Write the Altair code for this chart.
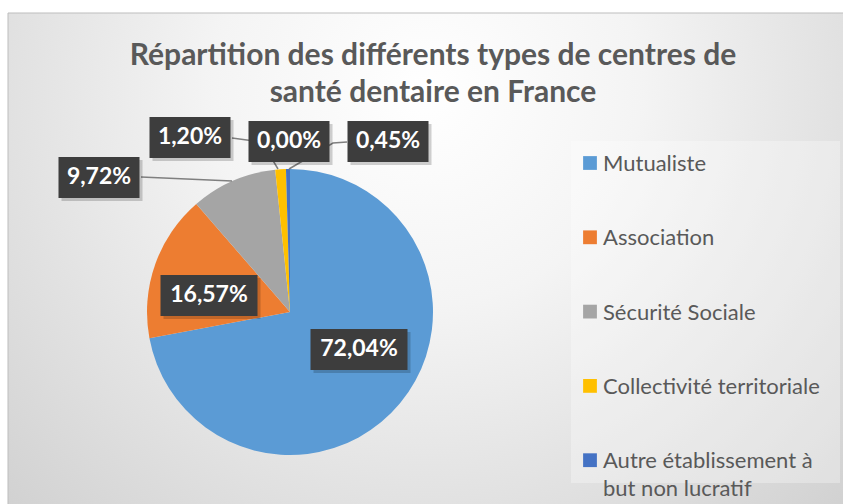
import altair as alt
import pandas as pd

# ---- data ----
categories = ["Mutualiste", "Association", "Sécurité Sociale",
              "Collectivité territoriale", "Autre établissement à but non lucratif", "Autres"]
values = [72.04, 16.57, 9.72, 1.20, 0.45, 0.00]
colors = ["#5B9BD5", "#ED7D31", "#A5A5A5", "#FFC000", "#4472C4", "#70AD47"]
legend_count = 5
title_lines = ["Répartition des différents types de centres de", "santé dentaire en France"]

# ---- layout (pixels) ----
W, H = 843, 504
pie_cx, pie_cy, pie_r = 290, 312, 143
label_x = [359, 209, 99, 190, 388, 289]
label_y = [349, 295, 177, 137, 141, 141]
leader_cat = [2, 2, 3, 3, 3, 4, 4, 4]
leader_pt = [0, 1, 0, 1, 2, 0, 1, 2]
leader_x = [141, 232, 232, 262, 278, 347, 333, 289]
leader_y = [177, 181, 138, 142, 169, 142, 143, 169]

FONT = "Lato"
TXT = "#595959"

def fmt(v):
    return f"{v:.2f}".replace(".", ",") + "%"

df = pd.DataFrame({"category": categories, "value": values, "idx": range(len(categories))})
df["label"] = [fmt(v) for v in values]
df["lx"] = label_x
df["ly"] = label_y
df["bw"] = [16 * len(s) + 1 for s in df["label"]]
df["x1"] = df["lx"] - df["bw"] / 2
df["x2"] = df["lx"] + df["bw"] / 2
df["y1"] = df["ly"] - 20
df["y2"] = df["ly"] + 21

color_scale = alt.Scale(domain=categories, range=colors)

one = pd.DataFrame({"a": [0]})

bg = alt.Chart(one).mark_rect(
    fill=alt.RadialGradient(
        gradient="radial",
        stops=[alt.GradientStop(color="#ffffff", offset=0),
               alt.GradientStop(color="#f4f4f4", offset=0.3),
               alt.GradientStop(color="#c6c6c6", offset=1)],
        x1=0.5, y1=0.3, r1=0, x2=0.5, y2=0.3, r2=0.85),
    stroke="#bdbdbd", strokeWidth=1,
).encode(x=alt.value(8), x2=alt.value(W + 2), y=alt.value(13), y2=alt.value(H + 2))

legend_box = alt.Chart(one).mark_rect(fill="#ffffff", fillOpacity=0.3).encode(
    x=alt.value(571), x2=alt.value(840), y=alt.value(141), y2=alt.value(483))

title = alt.Chart(one).mark_text(
    text=title_lines, font=FONT, fontSize=30, fontWeight="bold", color=TXT,
    align="center", baseline="alphabetic", lineHeight=37,
).encode(x=alt.value(433), y=alt.value(65))

pie = alt.Chart(df).mark_arc(radius=pie_r).encode(
    theta=alt.Theta("value:Q", stack=True),
    color=alt.Color("category:N", scale=color_scale, legend=None),
    order=alt.Order("idx:Q"),
    x=alt.value(pie_cx), y=alt.value(pie_cy),
)

ldf = pd.DataFrame({"cat": leader_cat, "pt": leader_pt, "x": leader_x, "y": leader_y})
leaders = alt.Chart(ldf).mark_line(color="#7f7f7f", strokeWidth=1.5).encode(
    x=alt.X("x:Q", scale=None, axis=None),
    y=alt.Y("y:Q", scale=None, axis=None),
    detail="cat:N", order="pt:Q",
)

shadow = alt.Chart(df).mark_rect(fill="#000000", fillOpacity=0.18).transform_calculate(
    sx1="datum.x1 + 3", sx2="datum.x2 + 3", sy1="datum.y1 + 3", sy2="datum.y2 + 3"
).encode(
    x=alt.X("sx1:Q", scale=None, axis=None), x2="sx2:Q",
    y=alt.Y("sy1:Q", scale=None, axis=None), y2="sy2:Q",
)

boxes = alt.Chart(df).mark_rect(fill="#3d3d3d").encode(
    x=alt.X("x1:Q", scale=None, axis=None), x2="x2:Q",
    y=alt.Y("y1:Q", scale=None, axis=None), y2="y2:Q",
)

labels = alt.Chart(df).mark_text(
    font=FONT, fontSize=23, fontWeight="bold", color="#ffffff",
    align="center", baseline="middle",
).encode(
    x=alt.X("lx:Q", scale=None, axis=None),
    y=alt.Y("ly:Q", scale=None, axis=None),
    text="label:N",
)

leg = df.iloc[:legend_count].copy()
leg["disp"] = [c.replace(" à ", " à\n") for c in leg["category"]]
leg_sym = alt.Chart(leg).mark_point(shape="square", filled=True, size=190, opacity=1).transform_calculate(
    ly="163 + datum.idx * 74.3"
).encode(
    x=alt.value(590),
    y=alt.Y("ly:Q", scale=None, axis=None),
    color=alt.Color("category:N", scale=color_scale, legend=None),
)
leg_txt = alt.Chart(leg).mark_text(
    font=FONT, fontSize=22, color=TXT, align="left", baseline="alphabetic",
    lineBreak="\n", lineHeight=28,
).transform_calculate(
    ly="171 + datum.idx * 74.3"
).encode(
    x=alt.value(603),
    y=alt.Y("ly:Q", scale=None, axis=None),
    text="disp:N",
)

chart = alt.layer(
    bg, legend_box, title, pie, leaders, shadow, boxes, labels, leg_sym, leg_txt
).properties(
    width=W, height=H, padding=0, autosize=alt.AutoSizeParams(type="none"),
    background="#ffffff",
).configure_view(stroke=None)

chart.save("out.html", embed_options={"renderer": "svg", "actions": False})
